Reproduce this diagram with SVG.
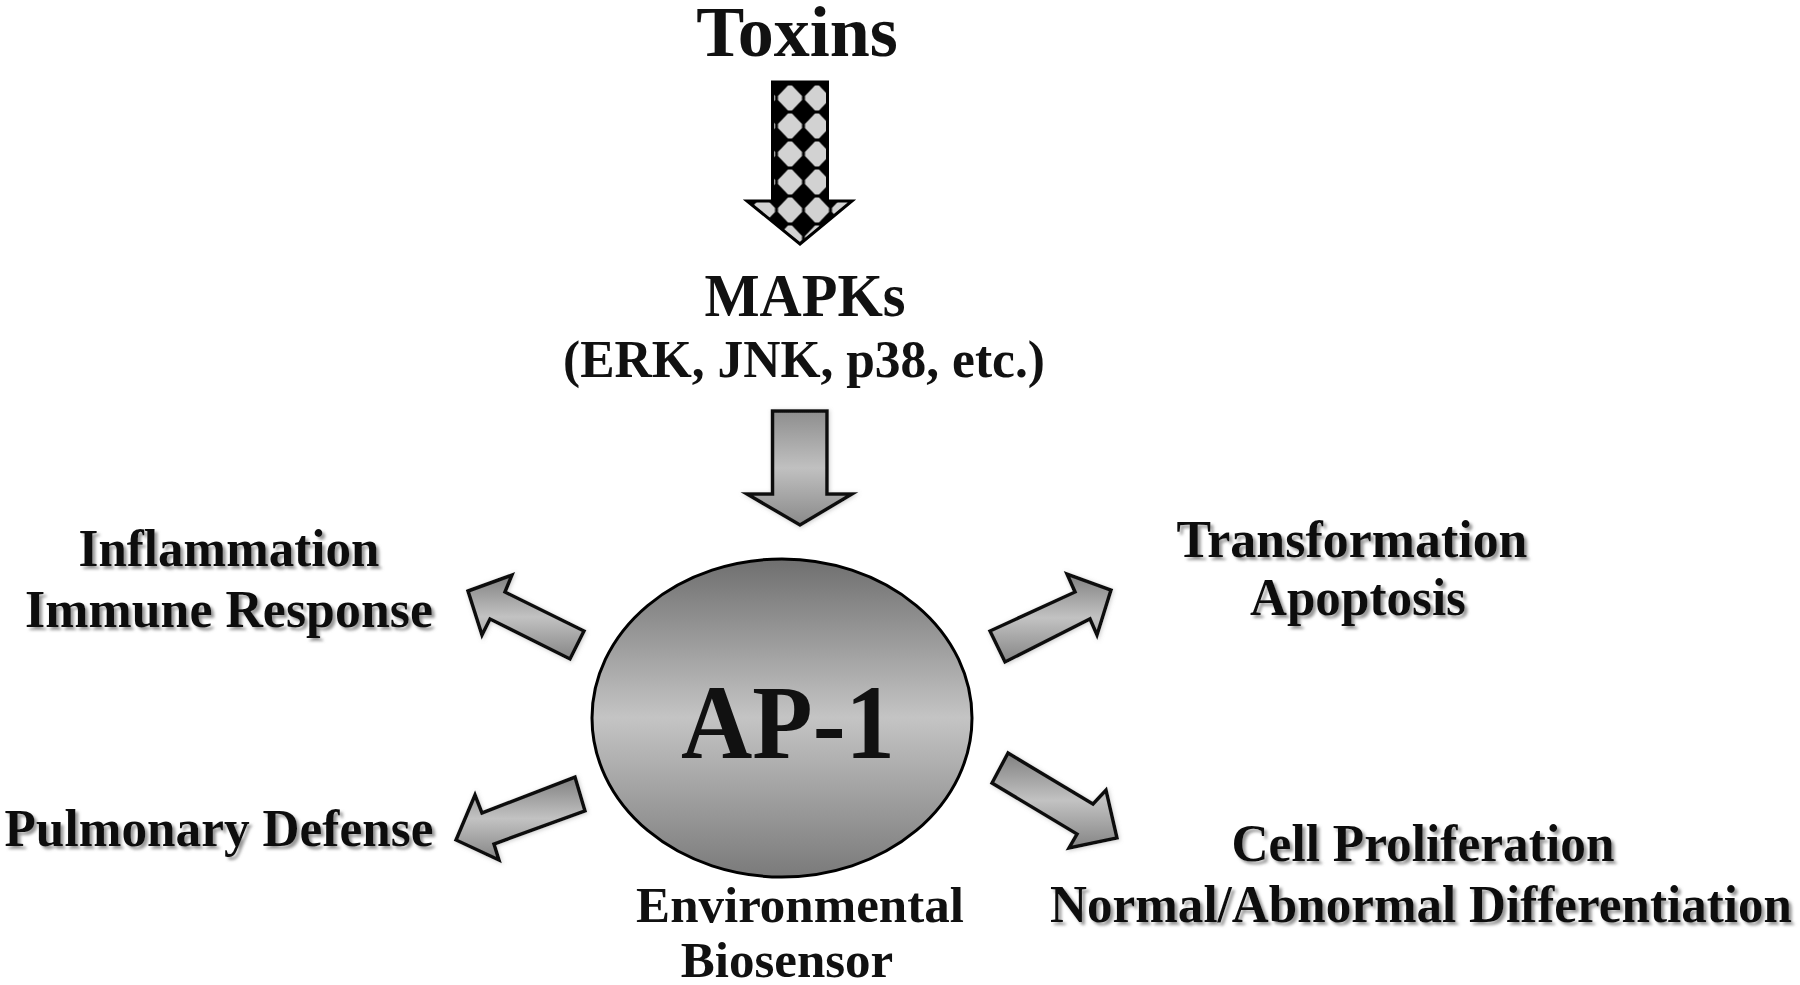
<svg xmlns="http://www.w3.org/2000/svg" width="1800" height="985" viewBox="0 0 1800 985">
<style>
text{font-family:"Liberation Serif","Times New Roman",serif;font-weight:bold;fill:#111;text-anchor:middle}
.lbl{font-size:53px;filter:url(#tshadow)}
.arr{stroke:#111;stroke-width:3.5;stroke-linejoin:miter;filter:url(#ashadow)}
</style>
<defs>
<filter id="tshadow" x="-10%" y="-30%" width="120%" height="160%">
<feGaussianBlur in="SourceAlpha" stdDeviation="1.6"/>
<feOffset dx="3" dy="3" result="b"/>
<feFlood flood-color="#777" flood-opacity="0.75"/>
<feComposite in2="b" operator="in" result="s"/>
<feMerge><feMergeNode in="s"/><feMergeNode in="SourceGraphic"/></feMerge>
</filter>
<filter id="ashadow" x="-20%" y="-20%" width="140%" height="140%">
<feGaussianBlur in="SourceAlpha" stdDeviation="2"/>
<feOffset dx="1" dy="1" result="b"/>
<feFlood flood-color="#999" flood-opacity="0.5"/>
<feComposite in2="b" operator="in" result="s"/>
<feMerge><feMergeNode in="s"/><feMergeNode in="SourceGraphic"/></feMerge>
</filter>
<linearGradient id="gArrow" x1="0" y1="0" x2="0" y2="1">
<stop offset="0" stop-color="#808080"/>
<stop offset="0.5" stop-color="#c2c2c2"/>
<stop offset="1" stop-color="#858585"/>
</linearGradient>
<linearGradient id="gDown" x1="0" y1="0" x2="0" y2="1">
<stop offset="0" stop-color="#8e8e8e"/>
<stop offset="0.5" stop-color="#c0c0c0"/>
<stop offset="1" stop-color="#8a8a8a"/>
</linearGradient>
<linearGradient id="gEll" x1="0" y1="0" x2="0" y2="1">
<stop offset="0" stop-color="#6f6f6f"/>
<stop offset="0.5" stop-color="#c4c4c4"/>
<stop offset="1" stop-color="#7a7a7a"/>
</linearGradient>
<pattern id="checker" patternUnits="userSpaceOnUse" x="776.5" y="84" width="27" height="28">
<rect width="27" height="28" fill="#000"/>
<polygon points="11.5,1.5 15.5,1.5 25.5,12 25.5,16 15.5,26.5 11.5,26.5 1.5,16 1.5,12" fill="#d2d2d2"/>
</pattern>
</defs>

<g id="connectors">
<polygon id="toxins-arrow" points="772.5,82 827.5,82 827.5,201 852,201 800,244 747,201 772.5,201" fill="url(#checker)" stroke="#000" stroke-width="3"/>
<polygon id="mapk-arrow" class="arr" points="772.5,411 827,411 827,494 852,494 800,525 747,494 772.5,494" fill="url(#gDown)"/>
<polygon id="arrow-ul" class="arr" points="468,591 512,575 505,592 584,631 570,659 490,619 482,635" fill="url(#gArrow)"/>
<polygon id="arrow-ur" class="arr" points="990,631 1005,662 1090,619 1097,635 1111,590 1067,574 1075,592" fill="url(#gArrow)"/>
<polygon id="arrow-ll" class="arr" points="456,840 475,795 482,813 575,777 585,811 494,844 499,860" fill="url(#gArrow)"/>
<polygon id="arrow-lr" class="arr" points="1008,753 992,783 1077,834 1069,848 1117,838 1106,790 1093,804" fill="url(#gArrow)"/>
</g>

<g id="toxins">
<text x="797" y="56" font-size="72">Toxins</text>
</g>

<g id="mapks">
<text x="805" y="316" font-size="61" textLength="201" lengthAdjust="spacingAndGlyphs">MAPKs</text>
<text x="804" y="377" font-size="53" textLength="482" lengthAdjust="spacingAndGlyphs">(ERK, JNK, p38, etc.)</text>
</g>

<g id="ap1">
<ellipse cx="782" cy="718" rx="190" ry="159" fill="url(#gEll)" stroke="#000" stroke-width="3"/>
<text x="788" y="758" font-size="105" textLength="214" lengthAdjust="spacingAndGlyphs">AP-1</text>
<text x="800" y="922" font-size="51">Environmental</text>
<text x="787" y="977" font-size="51">Biosensor</text>
</g>

<g id="inflammation">
<text class="lbl" x="229" y="566" textLength="301" lengthAdjust="spacingAndGlyphs">Inflammation</text>
<text class="lbl" x="229" y="627" textLength="408" lengthAdjust="spacingAndGlyphs">Immune Response</text>
</g>

<g id="pulmonary">
<text class="lbl" x="219" y="846" textLength="429" lengthAdjust="spacingAndGlyphs">Pulmonary Defense</text>
</g>

<g id="transformation">
<text class="lbl" x="1352" y="557" textLength="351" lengthAdjust="spacingAndGlyphs">Transformation</text>
<text class="lbl" x="1358" y="615" textLength="216" lengthAdjust="spacingAndGlyphs">Apoptosis</text>
</g>

<g id="proliferation">
<text class="lbl" x="1423" y="861" textLength="383" lengthAdjust="spacingAndGlyphs">Cell Proliferation</text>
<text class="lbl" x="1421" y="922" textLength="742" lengthAdjust="spacingAndGlyphs">Normal/Abnormal Differentiation</text>
</g>
</svg>
